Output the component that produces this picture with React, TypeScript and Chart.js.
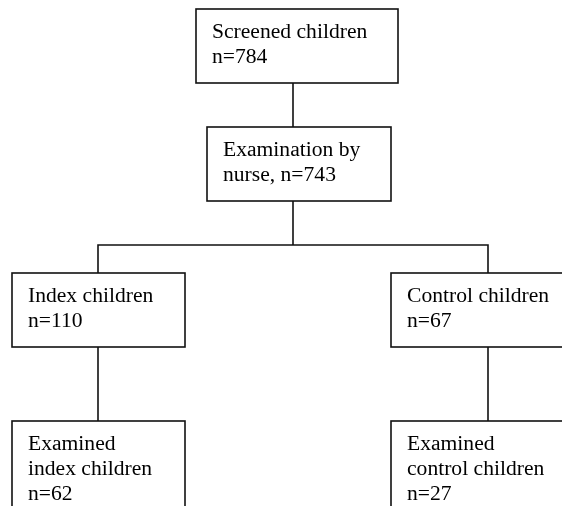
import React, { useEffect, useRef } from "react";
import { Chart, registerables } from "chart.js";

Chart.register(...registerables);

// ---- Data ----
const nodeTitles: string[][] = [
  ["Screened children"],
  ["Examination by"],
  ["Index children"],
  ["Control children"],
  ["Examined", "index children"],
  ["Examined", "control children"],
];
const nodeCountPrefix = ["", "nurse, ", "", "", "", ""];
const nodeCounts = [784, 743, 110, 67, 62, 27];

// ---- Layout (diagram coordinates) ----
const boxLayout = [
  { x0: 196, x1: 398, y0: 9, y1: 83 },
  { x0: 207, x1: 391, y0: 127, y1: 201 },
  { x0: 12, x1: 185, y0: 273, y1: 347 },
  { x0: 391, x1: 566, y0: 273, y1: 347 },
  { x0: 12, x1: 185, y0: 421, y1: 530 },
  { x0: 391, x1: 566, y0: 421, y1: 530 },
];
const connectors: { x: number; y: number }[][] = [
  [{ x: 293, y: 83 }, { x: 293, y: 127 }],
  [{ x: 293, y: 201 }, { x: 293, y: 245 }],
  [{ x: 98, y: 273 }, { x: 98, y: 245 }, { x: 488, y: 245 }, { x: 488, y: 273 }],
  [{ x: 98, y: 347 }, { x: 98, y: 421 }],
  [{ x: 488, y: 347 }, { x: 488, y: 421 }],
];
const TEXT_PAD_X = 16;
const FIRST_BASELINE = 29;
const LINE_GAP = 25;

const boxPlugin = {
  id: "flowBoxes",
  afterDatasetsDraw(chart: any) {
    const ctx = chart.ctx as CanvasRenderingContext2D;
    const xs = chart.scales.x;
    const ys = chart.scales.y;
    ctx.save();
    boxLayout.forEach((b, i) => {
      const px0 = xs.getPixelForValue(b.x0);
      const px1 = xs.getPixelForValue(b.x1);
      const py0 = ys.getPixelForValue(b.y0);
      const py1 = ys.getPixelForValue(b.y1);
      ctx.fillStyle = "#ffffff";
      ctx.fillRect(px0, py0, px1 - px0, py1 - py0);
      ctx.strokeStyle = "#111111";
      ctx.lineWidth = 1.6;
      ctx.strokeRect(px0, py0, px1 - px0, py1 - py0);
      const lines = [...nodeTitles[i], nodeCountPrefix[i] + "n=" + nodeCounts[i]];
      ctx.fillStyle = "#000000";
      ctx.font = '21.6px "Liberation Serif", "Times New Roman", serif';
      ctx.textAlign = "left";
      ctx.textBaseline = "alphabetic";
      lines.forEach((t, k) => {
        const tx = xs.getPixelForValue(b.x0 + TEXT_PAD_X);
        const ty = ys.getPixelForValue(b.y0 + FIRST_BASELINE + k * LINE_GAP);
        ctx.fillText(t, tx, ty);
      });
    });
    ctx.restore();
  },
};

export default function App() {
  const ref = useRef<HTMLCanvasElement | null>(null);
  useEffect(() => {
    if (!ref.current) return;
    const chart = new Chart(ref.current, {
      type: "scatter",
      data: {
        datasets: connectors.map((pts) => ({
          data: pts,
          showLine: true,
          borderColor: "#111111",
          borderWidth: 1.6,
          pointRadius: 0,
          fill: false,
          tension: 0,
        })),
      },
      options: {
        responsive: false,
        animation: false,
        layout: { padding: 0 },
        scales: {
          x: { type: "linear", min: 0, max: 562, display: false },
          y: { type: "linear", min: 0, max: 506, reverse: true, display: false },
        },
        plugins: {
          legend: { display: false },
          tooltip: { enabled: false },
        },
      },
      plugins: [boxPlugin],
    });
    return () => chart.destroy();
  }, []);
  return (
    <div style={{ position: "absolute", left: 0, top: 0, width: 562, height: 506, background: "#fff" }}>
      <canvas ref={ref} width={562} height={506} style={{ display: "block" }} />
    </div>
  );
}
